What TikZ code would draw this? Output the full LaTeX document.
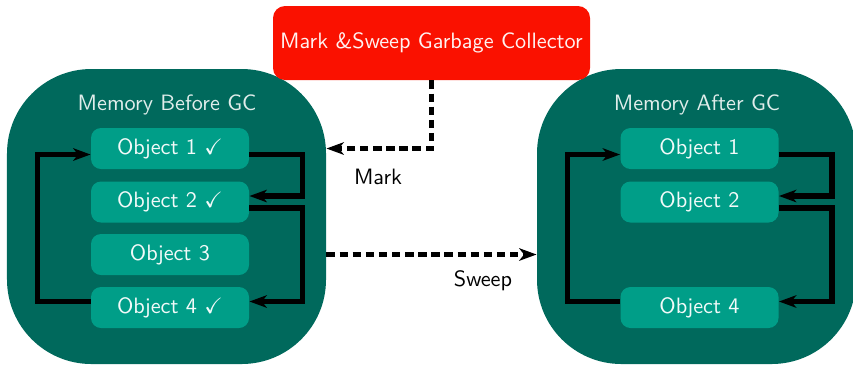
\documentclass[tikz,border=0pt]{standalone}
\usepackage{amssymb}
\usetikzlibrary{arrows.meta}
\definecolor{memdark}{RGB}{0,105,92}
\definecolor{objteal}{RGB}{0,158,136}
\definecolor{gcred}{RGB}{250,17,0}
\begin{document}
\begin{tikzpicture}[x=0.45pt,y=-0.45pt,
  font=\sffamily,
  membox/.style={fill=memdark,rounded corners=38pt,minimum width=143.55pt,minimum height=132.75pt,inner sep=0pt},
  objbox/.style={fill=objteal,rounded corners=4.5pt,minimum width=71.1pt,minimum height=18.45pt,inner sep=0pt,text=white!95!objteal},
  gcbox/.style={fill=gcred,rounded corners=5.4pt,minimum width=142.65pt,minimum height=33.3pt,inner sep=0pt,text=white!95!gcred},
  memtitle/.style={text=white!88!memdark},
  refline/.style={line width=2.3pt,-{Stealth[length=7.8pt,width=5.6pt,inset=2.2pt]}},
  gcline/.style={line width=2.2pt,dash pattern=on 3.8pt off 2.1pt,-{Stealth[length=7.8pt,width=5.6pt,inset=2.2pt]}},
  lbl/.style={text=black}]
\useasboundingbox (0,0) rectangle (853,365);
\node[membox] (memL) at (166.5,216.5) {};
\node[membox] (memR) at (696.5,216.5) {};
\node[gcbox] (gc) at (431.5,43) {Mark \&Sweep Garbage Collector};
\node[memtitle] (tL) at (167,105) {Memory Before GC};
\node[memtitle] (tR) at (697,105) {Memory After GC};
\node[objbox] (l1) at (170,148.5) {Object 1 $\checkmark$};
\node[objbox] (l2) at (170,202) {Object 2 $\checkmark$};
\node[objbox] (l3) at (170,254.5) {Object 3};
\node[objbox] (l4) at (170,307.5) {Object 4 $\checkmark$};
\node[objbox] (r1) at (699.5,148.5) {Object 1};
\node[objbox] (r2) at (699.5,202) {Object 2};
\node[objbox] (r4) at (699.5,307.5) {Object 4};
% references, before GC
\draw[refline] ([yshift=2.7pt]l4.west) -- ++(-53,0) |- ([yshift=-2.7pt]l1.west);
\draw[refline] ([yshift=-2.7pt]l1.east) -- ++(53,0) |- ([yshift=2.7pt]l2.east);
\draw[refline] ([yshift=-2.7pt]l2.east) -- ++(53,0) |- ([yshift=2.7pt]l4.east);
% references, after GC
\draw[refline] ([yshift=2.7pt]r4.west) -- ++(-53,0) |- ([yshift=-2.7pt]r1.west);
\draw[refline] ([yshift=-2.7pt]r1.east) -- ++(53,0) |- ([yshift=2.7pt]r2.east);
\draw[refline] ([yshift=-2.7pt]r2.east) -- ++(53,0) |- ([yshift=2.7pt]r4.east);
% collector phases
\draw[gcline] (gc.south) |- (memL.east |- l1);
\draw[gcline] (memL.east |- l3) -- (memR.west |- l3);
\node[lbl] (mark) at (378,177) {Mark};
\node[lbl] (sweep) at (483,281) {Sweep};
\end{tikzpicture}
\end{document}
